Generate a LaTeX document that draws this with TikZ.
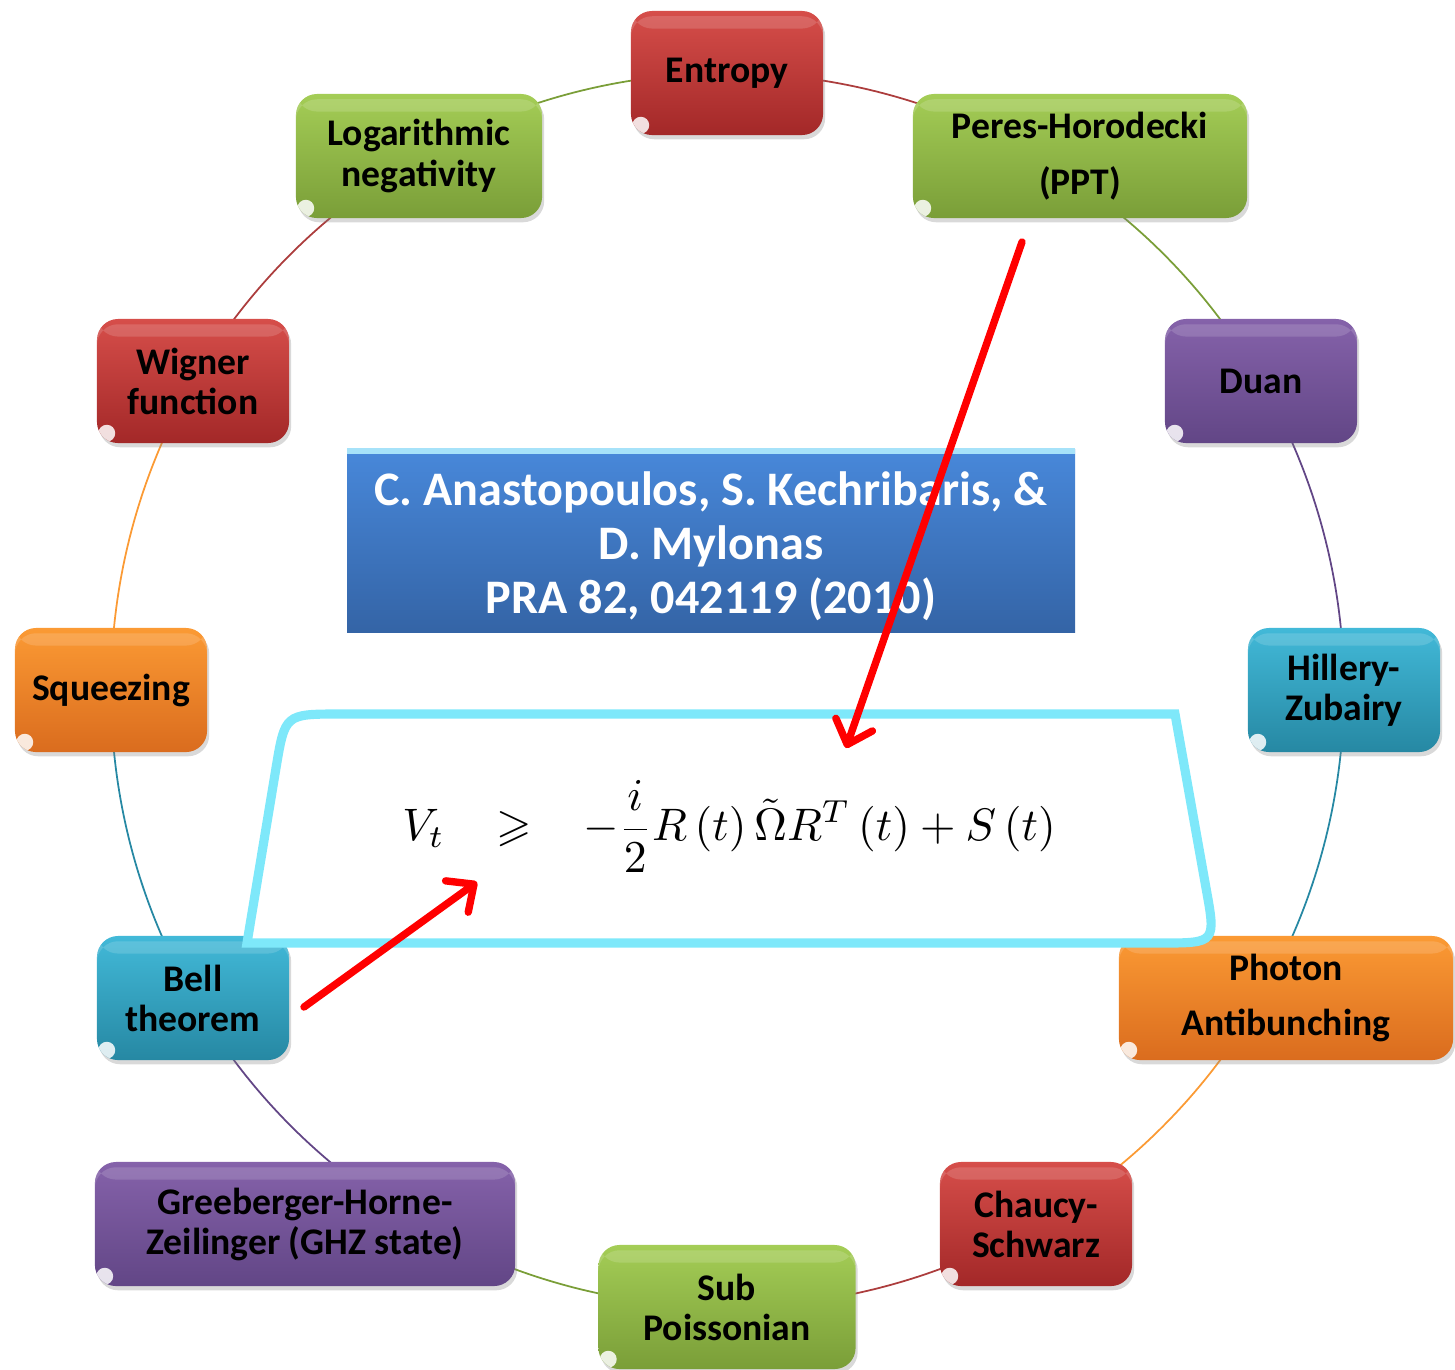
\documentclass[tikz,border=0pt]{standalone}
\usepackage{amssymb}
\usepackage{graphicx}
\usepackage{fontspec}
\newfontfamily\boxfont{Carlito}
\usetikzlibrary{arrows.meta, shadows, backgrounds}

\definecolor{redtop}{RGB}{214,78,74}
\definecolor{redbot}{RGB}{163,40,40}
\definecolor{greentop}{RGB}{164,205,86}
\definecolor{greenbot}{RGB}{122,158,56}
\definecolor{purptop}{RGB}{133,98,170}
\definecolor{purpbot}{RGB}{98,70,134}
\definecolor{tealtop}{RGB}{66,185,216}
\definecolor{tealbot}{RGB}{38,136,163}
\definecolor{orntop}{RGB}{251,154,52}
\definecolor{ornbot}{RGB}{218,108,30}
\definecolor{bluetop}{RGB}{72,136,218}
\definecolor{bluebot}{RGB}{52,100,166}
\definecolor{framecyan}{RGB}{126,232,250}

\tikzset{
  topic/.style={rounded corners=6pt, minimum width=1.92cm, minimum height=1.24cm,
    align=center, font=\boxfont\bfseries\fontsize{10.7}{11.4}\selectfont,
    drop shadow={opacity=.3, shadow xshift=.6pt, shadow yshift=-1.2pt},
    path picture={\fill[white, opacity=.85]
      ([shift={(2.8pt,2.8pt)}]path picture bounding box.south west) circle (2.4pt);
      \fill[white, opacity=.15] ([yshift=-1.5pt]path picture bounding box.north west)
        rectangle ([yshift=-5pt]path picture bounding box.north east);}},
  airy/.style={font=\boxfont\bfseries\fontsize{10.7}{15.8}\selectfont},
  redbox/.style={topic, top color=redtop, bottom color=redbot},
  greenbox/.style={topic, top color=greentop, bottom color=greenbot},
  purplebox/.style={topic, top color=purptop, bottom color=purpbot},
  tealbox/.style={topic, top color=tealtop, bottom color=tealbot},
  orangebox/.style={topic, top color=orntop, bottom color=ornbot},
  link/.style={line width=.5pt, bend left=15, looseness=.87},
  pointer/.style={draw=red, line width=2.1pt, line cap=round,
    -{Straight Barb[round, length=6pt, width=11pt]}}
}

\begin{document}
\begin{tikzpicture}[x=0.01cm, y=-0.01cm]
    \useasboundingbox (0,0) rectangle (1455,1369);

    % Topics round the circle
    \node[redbox] (entropy) at (727,73) {Entropy};
    \node[greenbox, airy, minimum width=3.34cm] (ppt) at (1080,156) {Peres-Horodecki\\(PPT)};
    \node[purplebox] (duan) at (1261,381) {Duan};
    \node[tealbox] (hz) at (1344,690) {Hillery-\\Zubairy};
    \node[orangebox, airy, minimum width=3.34cm] (photon) at (1286,998) {Photon\\Antibunching};
    \node[redbox] (cs) at (1036,1224) {Chaucy-\\Schwarz};
    \node[greenbox, minimum width=2.57cm] (sub) at (727,1307) {Sub\\Poissonian};
    \node[purplebox, minimum width=4.2cm] (ghz) at (305,1224) {Greeberger-Horne-\\Zeilinger (GHZ state)};
    \node[tealbox] (bell) at (193,998) {Bell\\theorem};
    \node[orangebox] (squeez) at (111,690) {Squeezing};
    \node[redbox] (wigner) at (193,381) {Wigner\\function};
    \node[greenbox, minimum width=2.46cm] (logneg) at (419,156) {Logarithmic\\negativity};

    % Circle
    \begin{scope}[on background layer]
        \draw[link, redbot!90] (entropy.center) to ([xshift=-4.45mm]ppt.center);
        \draw[link, greenbot] ([xshift=-4.45mm]ppt.center) to (duan.center);
        \draw[link, purpbot] (duan.center) to (hz.center);
        \draw[link, tealbot] (hz.center) to ([xshift=-2.5mm]photon.center);
        \draw[link, orntop] ([xshift=-2.5mm]photon.center) to (cs.center);
        \draw[link, redbot!90] (cs.center) to (sub.center);
        \draw[link, greenbot] (sub.center) to ([xshift=11.35mm]ghz.center);
        \draw[link, purpbot] ([xshift=11.35mm]ghz.center) to (bell.center);
        \draw[link, tealbot] (bell.center) to (squeez.center);
        \draw[link, orntop] (squeez.center) to (wigner.center);
        \draw[link, redbot!90] (wigner.center) to (logneg.center);
        \draw[link, greenbot] (logneg.center) to (entropy.center);
    \end{scope}

    % Reference
    \shade[top color=bluetop, bottom color=bluebot] (347,449) rectangle (1075,632);
    \draw[cyan!35!white, line width=1.6pt] (347,451) -- (1075,451);
    \node[text=white, align=center, font=\boxfont\bfseries\fontsize{13.7}{15.4}\selectfont]
        (paper) at (711,546) {C. Anastopoulos, S. Kechribaris, \&\\D. Mylonas\\PRA 82, 042119 (2010)};

    % Inequality
    \draw[line width=2.6pt, draw=framecyan, fill=white] (247,943) -- (276,768)
        .. controls (285,714) .. (340,714) -- (1175,714) -- (1206,888)
        .. controls (1216,943) .. (1161,943) -- cycle;
    \node (ineq) at (729,826)
        {\scalebox{1.295}{$\displaystyle V_t\hspace{.85em}\geqslant\hspace{.85em}-\frac{i}{2}R\left(t\right)\tilde{\Omega}R^T\left(t\right)+S\left(t\right)$}};

    % Arrows
    \coordinate (pptfoot) at (1022,242);
    \coordinate (ineqtop) at (846,748);
    \coordinate (bellside) at (304,1007);
    \coordinate (ineqleft) at (477,882);
    \draw[pointer] (pptfoot) -- (ineqtop);
    \draw[pointer] (bellside) -- (ineqleft);
\end{tikzpicture}
\end{document}
